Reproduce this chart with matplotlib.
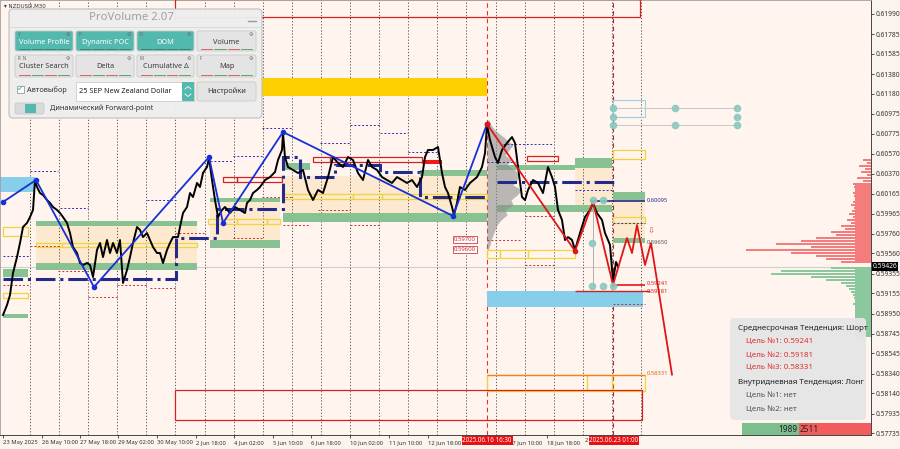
import matplotlib
matplotlib.use('Agg')
import matplotlib.pyplot as plt
from matplotlib.patches import Rectangle, FancyBboxPatch
import numpy as np

plt.rcParams['font.family'] = ['Noto Sans', 'DejaVu Sans']

# ---- price path (bar position, close)
bar_x = [3, 7, 10, 13, 17, 20, 23, 27, 30, 33, 35, 37, 40, 43, 47, 50, 53, 57, 60, 63,
         67, 70, 73, 77, 80, 83, 87, 90, 93, 97, 100, 103, 107, 110, 113, 117, 120, 123, 127, 130,
         133, 137, 140, 143, 147, 150, 153, 157, 160, 163, 167, 170, 173, 178, 180, 183, 187, 190, 193, 197,
         200, 203, 207, 209, 212, 215, 218, 222, 225, 230, 235, 240, 245, 247, 250, 253, 257, 260, 265, 270,
         275, 278, 282, 283, 285, 288, 293, 298, 303, 308, 313, 318, 323, 328, 333, 338, 343, 348, 353, 358,
         363, 368, 372, 377, 382, 387, 392, 397, 402, 407, 412, 417, 422, 425, 428, 433, 438, 442, 445, 448,
         452, 454, 457, 460, 465, 470, 477, 482, 485, 487, 490, 495, 498, 502, 507, 512, 515, 518, 522, 525,
         528, 533, 538, 543, 548, 552, 555, 558, 562, 565, 568, 572, 575, 580, 585, 590, 593, 597, 602, 605,
         608, 610, 613, 616, 618]
close = [0.58935, 0.59036, 0.59138, 0.59361, 0.59523, 0.59666, 0.59828, 0.59869, 0.59929, 0.60001,
         0.60305, 0.60234, 0.60173, 0.60153, 0.60102, 0.60072, 0.60031, 0.60001, 0.59970, 0.59929,
         0.59869, 0.59767, 0.59625, 0.59564, 0.59463, 0.59442, 0.59463, 0.59442, 0.59320, 0.59595,
         0.59666, 0.59523, 0.59696, 0.59564, 0.59666, 0.59564, 0.59696, 0.59260, 0.59392, 0.59523,
         0.59666, 0.59828, 0.59798, 0.59726, 0.59767, 0.59696, 0.59625, 0.59564, 0.59564, 0.59463,
         0.59595, 0.59666, 0.59726, 0.59726, 0.59828, 0.59970, 0.60031, 0.60173, 0.60132, 0.60275,
         0.60234, 0.60376, 0.60437, 0.60528, 0.60305, 0.60102, 0.59929, 0.60001, 0.60031, 0.59970,
         0.60031, 0.60001, 0.59970, 0.60072, 0.60102, 0.60173, 0.60204, 0.60234, 0.60305, 0.60335,
         0.60386, 0.60508, 0.60610, 0.60782, 0.60538, 0.60437, 0.60407, 0.60376, 0.60407, 0.60204,
         0.60102, 0.60204, 0.60173, 0.60335, 0.60538, 0.60478, 0.60437, 0.60538, 0.60508, 0.60376,
         0.60305, 0.60508, 0.60437, 0.60407, 0.60335, 0.60305, 0.60275, 0.60335, 0.60305, 0.60275,
         0.60305, 0.60234, 0.60335, 0.60538, 0.60610, 0.60610, 0.60640, 0.60376, 0.60234, 0.60173,
         0.60031, 0.59950, 0.60072, 0.60234, 0.60204, 0.60275, 0.60335, 0.60437, 0.60579, 0.60863,
         0.60711, 0.60538, 0.60478, 0.60610, 0.60681, 0.60741, 0.60681, 0.60437, 0.60132, 0.60102,
         0.60204, 0.60305, 0.60275, 0.60173, 0.60437, 0.60335, 0.60234, 0.60001, 0.59899, 0.59696,
         0.59726, 0.59696, 0.59595, 0.59767, 0.59929, 0.60001, 0.60072, 0.59970, 0.59899, 0.59767,
         0.59696, 0.59645, 0.59280, 0.59473, 0.59426]
last_price = 0.59426

# ---- zigzags
blue_zz_x = [3, 36, 94, 209, 223, 283, 453, 487]
blue_zz_p = [0.60082, 0.60305, 0.59219, 0.60538, 0.59869, 0.60792, 0.59940, 0.60873]
red_zz_x = [487, 575, 593, 613]
red_zz_p = [0.60873, 0.59585, 0.60082, 0.59241]
proj_x = [613, 627, 632, 637, 645, 651, 672]
proj_p = [0.59241, 0.59716, 0.59564, 0.59848, 0.59442, 0.59666, 0.58331]

# ---- dynamic POC
poc_edges = [3, 176, 217, 283, 300, 335, 380, 420, 487]
poc_vals = [0.59300, 0.59716, 0.60011, 0.60538, 0.60335, 0.60457, 0.60386, 0.60132]
poc2 = (497, 617, 0.60285)

# ---- zones (x0, x1, low, high)
green_zones = [(36, 197, 0.59838, 0.59889), (36, 197, 0.59392, 0.59463), (3, 28, 0.59320, 0.59402),
               (3, 28, 0.58904, 0.58945), (210, 280, 0.60082, 0.60122), (210, 280, 0.59615, 0.59696),
               (283, 310, 0.60407, 0.60478), (283, 487, 0.59879, 0.59970), (420, 487, 0.60346, 0.60407),
               (497, 575, 0.60407, 0.60457), (575, 612, 0.60427, 0.60528), (497, 612, 0.59980, 0.60051),
               (613, 645, 0.60102, 0.60183), (613, 645, 0.59666, 0.59716)]
beige_zones = [(36, 197, 0.59463, 0.59838), (210, 280, 0.59696, 0.60082), (283, 487, 0.59970, 0.60346),
               (575, 612, 0.60051, 0.60427), (613, 645, 0.59716, 0.60102)]
yellow_boxes = [(3, 28, 0.59737, 0.59828), (3, 28, 0.59107, 0.59158), (36, 62, 0.59625, 0.59666),
                (62, 197, 0.59625, 0.59666), (208, 237, 0.59858, 0.59909), (237, 267, 0.59858, 0.59909),
                (267, 280, 0.59858, 0.59909), (283, 353, 0.60112, 0.60163), (353, 382, 0.60112, 0.60163),
                (382, 487, 0.60112, 0.60163), (487, 500, 0.59513, 0.59595), (500, 528, 0.59513, 0.59595),
                (528, 575, 0.59513, 0.59595), (613, 645, 0.59869, 0.59929), (613, 645, 0.60518, 0.60610),
                (487, 587, 0.58163, 0.58326), (587, 612, 0.58163, 0.58326), (612, 645, 0.58163, 0.58326)]
gold_zone = (175, 487, 0.61158, 0.61340)
red_boxes = [(175, 640, 0.61959, 0.62140), (175, 642, 0.57869, 0.58174), (223, 237, 0.60285, 0.60335),
             (237, 282, 0.60285, 0.60335), (313, 330, 0.60488, 0.60538), (330, 422, 0.60488, 0.60538),
             (527, 558, 0.60498, 0.60549)]
red_fill = (422, 442, 0.60467, 0.60508)
blue_zones = [(0, 35, 0.60183, 0.60335), (487, 643, 0.59016, 0.59178)]
lightblue_box = (613, 645, 0.60944, 0.61117)

# ---- short dotted levels (x0, x1, price, colour)
dotted = [(30, 58, 0.60396, 'n'), (60, 88, 0.60021, 'n'), (3, 30, 0.59534, 'n'), (30, 60, 0.59635, 'r'),
          (58, 88, 0.59381, 'r'), (3, 30, 0.59239, 'r'), (117, 147, 0.59239, 'r'), (88, 117, 0.59117, 'r'),
          (147, 176, 0.60102, 'n'), (210, 232, 0.60498, 'n'), (233, 262, 0.60549, 'n'),
          (175, 205, 0.59767, 'r'), (150, 175, 0.59209, 'r'), (262, 292, 0.60833, 'n'),
          (262, 292, 0.60132, 'r'), (233, 262, 0.59716, 'r'), (283, 310, 0.59848, 'r'),
          (350, 380, 0.60863, 'n'), (380, 408, 0.60782, 'n'), (320, 350, 0.60681, 'n'),
          (318, 350, 0.60001, 'r'), (350, 380, 0.59848, 'r'), (408, 438, 0.60589, 'n'),
          (503, 553, 0.60670, 'n'), (525, 555, 0.59940, 'r'), (487, 515, 0.60488, 'n'),
          (525, 555, 0.59442, 'r'), (487, 520, 0.59696, 'r'), (575, 612, 0.60204, 'n'),
          (613, 645, 0.59869, 'n'), (613, 645, 0.59046, 'r')]

# ---- grey session volume profile at 16 Jun
gp_len = [2, 4, 8, 14, 20, 26, 22, 18, 24, 20, 28, 32, 30, 26, 35, 30, 24, 26, 18, 20, 14, 10, 8, 6, 4, 3, 1]
# ---- right side volume profile
vp_red = [8, 4, 12, 6, 10, 4, 14, 8, 18, 17, 16, 18, 17, 16, 18, 20, 17, 19, 22, 18, 24, 20, 30, 26,
          40, 35, 55, 70, 95, 60, 125, 80, 55, 45, 30]
vp_green = [40, 90, 100, 60, 45, 30, 25, 22, 20, 18, 17, 16, 18, 16, 15, 16, 14, 15, 13, 14, 12, 13, 10]
vol_buy, vol_sell = 1989, 2511

# ---- axis labels
sep_x = [30, 59, 88, 117, 146, 175, 205, 234, 263, 292, 321, 350, 379, 408, 437, 466, 496, 525, 554, 583, 612, 641]
xtick_pos = [3, 42, 80, 118, 157, 196, 234, 273, 311, 350, 389, 428, 509, 547]
xtick_lab = ['23 May 2025', '26 May 10:00', '27 May 18:00', '29 May 02:00', '30 May 10:00', '2 Jun 18:00',
             '4 Jun 02:00', '5 Jun 10:00', '6 Jun 18:00', '10 Jun 02:00', '11 Jun 10:00', '12 Jun 18:00',
             '17 Jun 10:00', '18 Jun 18:00']
ytick_vals = [0.61990, 0.61785, 0.61585, 0.61380, 0.61180, 0.60975, 0.60775, 0.60570, 0.60370, 0.60165,
              0.59965, 0.59760, 0.59560, 0.59355, 0.59155, 0.58950, 0.58745, 0.58545, 0.58340, 0.58140,
              0.57935, 0.57735]

fig = plt.figure(figsize=(9, 4.49), dpi=100)
fig.patch.set_facecolor('#FBF3EE')
ax = fig.add_axes([0.0, 14 / 449, 871 / 900, 435 / 449])
ax.set_facecolor('#FFF5EE')
ax.set_xlim(0, 871)
ax.set_ylim(0.57717, 0.62132)


def box(z, **kw):
    ax.add_patch(Rectangle((z[0], z[2]), z[1] - z[0], z[3] - z[2], **kw))


for z in beige_zones:
    box(z, fc='#FCE6C8', ec='none', alpha=0.8, zorder=1)
for z in green_zones:
    box(z, fc='#88C292', ec='none', zorder=2)
for z in blue_zones:
    box(z, fc='#87CEEB', ec='none', zorder=2)
box(gold_zone, fc='#FFD000', ec='none', zorder=2)
box(red_fill, fc='#F01818', ec='none', zorder=3)
box(lightblue_box, fc='none', ec='#9CCFE0', lw=0.8, zorder=3)
for z in yellow_boxes:
    box(z, fc='none', ec='#F2D43A', lw=0.9, zorder=3)
for z in red_boxes:
    box(z, fc='none', ec='#D82020', lw=0.9, zorder=3)

# separators
for xs in sep_x:
    ax.axvline(xs, color='#444444', lw=0.6, ls=(0, (1.5, 2.2)), zorder=1.5)
ax.axvline(487, color='#E03030', lw=0.8, ls=(0, (4, 3)), zorder=1.6)
ax.axvline(613, color='#A83232', lw=0.8, ls=(0, (4, 3)), zorder=1.6)
ax.axhline(last_price, color='#CFCFCF', lw=0.8, zorder=1.4)

# grey profile
gp_p = np.linspace(0.60914, 0.59595, len(gp_len))
ax.fill_betweenx(gp_p, 487, 487 + np.array(gp_len), color='#8C8C8C', alpha=0.6, lw=0, zorder=2.5)

for x0, x1, p, c in dotted:
    ax.hlines(p, x0, x1, color='#3030B0' if c == 'n' else '#C83030', lw=0.7, ls=(0, (2, 2)), zorder=3)

# dynamic POC
ax.stairs(poc_vals, poc_edges, baseline=None, color='#232A8C', lw=2.2, ls='-.', zorder=4)
ax.hlines(poc2[2], poc2[0], poc2[1], color='#232A8C', lw=2.2, ls='-.', zorder=4)
ax.hlines(0.60095, 590, 645, color='#232A8C', lw=1.2, zorder=4)

# price
ax.plot(bar_x, close, color='black', lw=1.4, zorder=5)

# zigzags
ax.plot(blue_zz_x, blue_zz_p, color='#1630D8', lw=1.3, zorder=6)
ax.plot(blue_zz_x, blue_zz_p, 'o', color='#1630D8', ms=3, zorder=6)
ax.plot(red_zz_x, red_zz_p, color='#E01515', lw=1.3, zorder=6)
ax.plot(red_zz_x[:2], red_zz_p[:2], 'o', color='#E01515', ms=3, zorder=6)
ax.plot(proj_x, proj_p, color='#E01515', lw=1.3, zorder=6)
ax.hlines(0.59241, 613, 645, color='#E01515', lw=1.2, zorder=6)
ax.hlines(0.59181, 575, 650, color='#D02020', lw=1.0, zorder=6)
ax.hlines(0.58331, 487, 645, color='#F08020', lw=1.0, zorder=6)

# teal markers
tx = [613, 613, 613, 675, 675, 737, 737, 737, 593, 603, 592, 592, 603, 613]
tp = [0.61036, 0.60944, 0.60863, 0.61036, 0.60863, 0.61036, 0.60944, 0.60863,
      0.60102, 0.60102, 0.59666, 0.59229, 0.59229, 0.59229]
ax.hlines([0.61036, 0.60863], 613, 737, color='#C8C8C8', lw=0.7, zorder=3)
ax.vlines(593, 0.59229, 0.60102, color='#B0B0B0', lw=0.7, zorder=3)
ax.plot(tx, tp, 'o', color='#8CC8C0', ms=4.5, alpha=0.9, zorder=7)

# level labels
for p, s, c in [(0.60095, '0.60095', '#232A8C'), (0.59666, '0.59650', '#555555'),
                (0.59250, '0.59241', '#D02020'), (0.59175, '0.59181', '#D02020'),
                (0.58345, '0.58331', '#E06020')]:
    ax.text(647, p, s, fontsize=4.2, color=c, va='center', zorder=7)
ax.text(651, 0.59790, '⇩', fontsize=6, color='#E04040', ha='center', va='center', zorder=7,
        family='DejaVu Sans')
for p, s in [(0.59700, '0.59700'), (0.59600, '0.59600')]:
    ax.text(465, p, s, fontsize=4.3, color='#C03030', ha='center', va='center', zorder=7,
            bbox=dict(fc='white', ec='#D04040', lw=0.6, pad=0.6))

# right volume profile
vr_p = np.linspace(0.60508, 0.59473, len(vp_red))
vg_p = np.linspace(0.59412, 0.58742, len(vp_green))
ax.barh(vr_p, vp_red, left=871 - np.array(vp_red), height=0.00024, color='#F47C7C', lw=0, zorder=3)
ax.barh(vg_p, vp_green, left=871 - np.array(vp_green), height=0.00024, color='#8CC89E', lw=0, zorder=3)
ax.add_patch(Rectangle((855, 0.59473), 16, 0.60275 - 0.59473, fc='#F47C7C', ec='none', zorder=3))
ax.add_patch(Rectangle((855, 0.58712), 16, 0.59412 - 0.58712, fc='#8CC89E', ec='none', zorder=3))

# axes cosmetics
ax.yaxis.tick_right()
ax.set_yticks(ytick_vals)
ax.set_yticklabels([f'{v:.5f}' for v in ytick_vals])
ax.tick_params(axis='y', labelsize=4.8, length=2, pad=1.5, colors='#333333', width=0.6)
ax.set_xticks(xtick_pos)
ax.set_xticklabels(xtick_lab, ha='left')
ax.tick_params(axis='x', labelsize=4.2, length=2, pad=1.5, colors='#333333', width=0.6)
for side in ['left', 'top']:
    ax.spines[side].set_color('#A0A0A0')
    ax.spines[side].set_linewidth(0.6)
for side in ['right', 'bottom']:
    ax.spines[side].set_color('#444444')
    ax.spines[side].set_linewidth(0.7)
ax.text(1.002, last_price, '0.59426', transform=ax.get_yaxis_transform(), fontsize=4.8, color='white',
        va='center', ha='left', bbox=dict(fc='black', ec='none', pad=0.5), zorder=8)
ax.text(585, -0.006, '2', transform=ax.get_xaxis_transform(), fontsize=4.2, color='#333333',
        ha='left', va='top')
for xx, s in [(487, '2025.06.16 16:30'), (614, '2025.06.23 01:00')]:
    ax.text(xx, -0.005, s, transform=ax.get_xaxis_transform(), fontsize=4.5, color='white', ha='center',
            va='top', bbox=dict(fc='#E81010', ec='none', pad=0.6), zorder=9, clip_on=False)
ax.text(4, 0.62070, '▾ NZDUSD,M30', fontsize=4, color='#333333', va='center', zorder=8, family='DejaVu Sans')

# ---- overlay in pixel coordinates: ProVolume panel, trend box, volume bar
ov = fig.add_axes([0, 0, 1, 1], zorder=10)
ov.set_xlim(0, 900)
ov.set_ylim(449, 0)
ov.axis('off')
ov.patch.set_alpha(0)

ov.add_patch(FancyBboxPatch((9, 9), 253, 109, boxstyle='round,pad=0,rounding_size=4',
                            fc='#EEEEEE', ec='#BDBDBD', lw=0.8, alpha=0.97))
ov.text(131, 18, 'ProVolume 2.07', fontsize=8.2, color='#A0A0A0', ha='center', va='center')
ov.plot([248, 256], [21, 21], color='#9A9A9A', lw=1)
ov.plot([10, 261], [27, 27], color='#D8D8D8', lw=0.6)

btn_rows = [(31, 51, [('Volume Profile', True, 'V'), ('Dynamic POC', True, 'P'), ('DOM', True, 'D'),
                      ('Volume', False, '')]),
            (55, 77, [('Cluster Search', False, 'R  N'), ('Delta', False, ''), ('Cumulative Δ', False, 'M'),
                      ('Map', False, 'F')])]
btn_cols = [(15, 73), (76, 134), (137, 194), (197, 256)]
for y0, y1, items in btn_rows:
    for (x0, x1), (lab, on, key) in zip(btn_cols, items):
        ov.add_patch(FancyBboxPatch((x0, y0), x1 - x0, y1 - y0, boxstyle='round,pad=0,rounding_size=2',
                                    fc='#53B8AE' if on else '#E4E4E4', ec='#CACACA', lw=0.6))
        ov.text((x0 + x1) / 2, (y0 + y1) / 2 + 1, lab, fontsize=5.3, ha='center', va='center',
                color='white' if on else '#3C3C3C')
        ov.text(x0 + 3, y0 + 3.5, key, fontsize=3.2, color='#666666', va='center')
        ov.text(x1 - 5, y0 + 3.5, '⚙', fontsize=3.6, color='#666666', va='center', ha='center',
                family='DejaVu Sans')
        seg = (x1 - x0 - 6) / 4
        for k in range(4):
            c = '#2E7D6F' if on else ('#D05050' if (k % 2 == 0) else '#4C9A5C')
            ov.plot([x0 + 3 + k * seg + 1, x0 + 3 + (k + 1) * seg - 1], [y1 - 2.5, y1 - 2.5], color=c, lw=0.6)

ov.add_patch(Rectangle((17, 86), 7, 7, fc='white', ec='#999999', lw=0.6))
ov.text(20.5, 88.5, '✓', fontsize=6, color='#3AA79B', ha='center', va='center', family='DejaVu Sans')
ov.text(27, 90, 'Автовыбор', fontsize=5.3, color='#333333', va='center')
ov.add_patch(Rectangle((76, 82), 118, 19, fc='white', ec='#CACACA', lw=0.6))
ov.add_patch(Rectangle((182, 82), 12, 19, fc='#53B8AE', ec='none'))
ov.plot([185, 188, 191], [89, 86.5, 89], color='white', lw=0.6)
ov.plot([185, 188, 191], [94, 96.5, 94], color='white', lw=0.6)
ov.text(79, 91.5, '25 SEP New Zealand Dollar', fontsize=5.3, color='#222222', va='center')
ov.add_patch(FancyBboxPatch((197, 82), 59, 19, boxstyle='round,pad=0,rounding_size=2',
                            fc='#E4E4E4', ec='#CACACA', lw=0.6))
ov.text(226.5, 91.5, 'Настройки', fontsize=5.3, color='#333333', ha='center', va='center')
ov.add_patch(FancyBboxPatch((15, 103), 29, 11, boxstyle='round,pad=0,rounding_size=2',
                            fc='#DADADA', ec='#C4C4C4', lw=0.5))
ov.add_patch(Rectangle((25, 104), 11, 9, fc='#53B8AE', ec='none'))
ov.text(50, 108.5, 'Динамический Forward-point', fontsize=5.2, color='#333333', va='center')

# trend box
ov.add_patch(FancyBboxPatch((730, 318), 136, 102, boxstyle='round,pad=0,rounding_size=4',
                            fc='#E6E6E6', ec='none', alpha=0.96))
info = [(738, 328, 'Среднесрочная Тенденция: Шорт', '#222222'),
        (746, 341, 'Цель №1: 0.59241', '#E03030'),
        (746, 355, 'Цель №2: 0.59181', '#E03030'),
        (746, 368, 'Цель №3: 0.58331', '#E03030'),
        (738, 382, 'Внутридневная Тенденция: Лонг', '#222222'),
        (746, 395, 'Цель №1: нет', '#555555'),
        (746, 409, 'Цель №2: нет', '#555555')]
for x, y, s, c in info:
    ov.text(x, y, s, fontsize=5.7, color=c, va='center')

# buy / sell volume bar
bx0, bx1 = 742, 871
gw = (bx1 - bx0) * vol_buy / (vol_buy + vol_sell)
ov.add_patch(Rectangle((bx0, 423), gw, 12, fc='#7DBE8E', ec='none'))
ov.add_patch(Rectangle((bx0 + gw, 423), bx1 - bx0 - gw, 12, fc='#F25C5C', ec='none'))
ov.text(bx0 + gw - 2, 429.5, str(vol_buy), fontsize=6, color='#222222', ha='right', va='center')
ov.text(bx0 + gw + 1, 429.5, str(vol_sell), fontsize=6, color='#222222', ha='left', va='center')

fig.savefig('out.png', dpi=100, facecolor=fig.get_facecolor())
